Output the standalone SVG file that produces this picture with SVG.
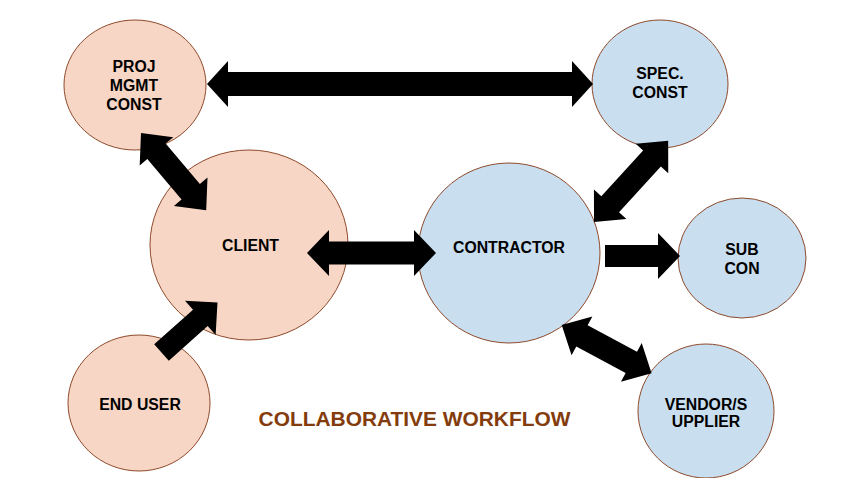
<svg xmlns="http://www.w3.org/2000/svg" width="849" height="478" viewBox="0 0 849 478">
<style>
.o{fill:#F8D6C5;stroke:#8E4A2B;stroke-width:1}
.b{fill:#C9DFF0;stroke:#8E4A2B;stroke-width:1}
.t{font-family:"Liberation Sans",Arial,sans-serif;font-weight:bold;font-size:15.8px;fill:#000;text-anchor:middle}
.title{font-family:"Liberation Sans",Arial,sans-serif;font-weight:bold;font-size:20.9px;fill:#843C0C;text-anchor:middle}
.a{fill:#000;stroke:none}
</style>
<rect width="849" height="478" fill="#fff"/>
<g id="proj"><ellipse class="o" cx="135" cy="85" rx="71" ry="65"/>
<text class="t" x="134" y="72">PROJ</text><text class="t" x="134" y="91">MGMT</text><text class="t" x="134" y="110">CONST</text></g>
<g id="client"><ellipse class="o" cx="249" cy="245" rx="99" ry="95"/>
<text class="t" x="250.5" y="251">CLIENT</text></g>
<g id="enduser"><ellipse class="o" cx="139" cy="403" rx="71" ry="68"/>
<text class="t" x="140" y="410">END USER</text></g>
<g id="contractor"><ellipse class="b" cx="509" cy="253" rx="91" ry="90"/>
<text class="t" x="509" y="253">CONTRACTOR</text></g>
<g id="spec"><ellipse class="b" cx="660" cy="84" rx="68" ry="64"/>
<text class="t" x="660" y="79">SPEC.</text><text class="t" x="660" y="98">CONST</text></g>
<g id="sub"><ellipse class="b" cx="742" cy="258" rx="64" ry="60"/>
<text class="t" x="742" y="255">SUB</text><text class="t" x="742" y="274">CON</text></g>
<g id="vendor"><ellipse class="b" cx="706" cy="411" rx="68" ry="67"/>
<text class="t" x="706" y="410">VENDOR/S</text><text class="t" x="706" y="427">UPPLIER</text></g>
<g id="connectors">
<path class="a" transform="translate(207,84)" d="M0,0 L21,-23 L21,-12 L365,-12 L365,-23 L386,0 L365,23 L365,12 L21,12 L21,23 Z"/>
<path class="a" transform="translate(307,253)" d="M0,0 L22,-23 L22,-11.5 L107,-11.5 L107,-23 L129,0 L107,23 L107,11.5 L22,11.5 L22,23 Z"/>
<path class="a" transform="translate(141,133) rotate(49.8)" d="M0,0 L24,-22 L24,-12 L77,-12 L77,-22 L101,0 L77,22 L77,12 L24,12 L24,22 Z"/>
<path class="a" transform="translate(594,222) rotate(-47.6)" d="M0,0 L24,-22 L24,-12 L86,-12 L86,-22 L110,0 L86,22 L86,12 L24,12 L24,22 Z"/>
<path class="a" transform="translate(561.7,325) rotate(28.2)" d="M0,0 L23,-22 L23,-12 L79,-12 L79,-22 L102,0 L79,22 L79,12 L23,12 L23,22 Z"/>
<path class="a" d="M605,245 L658,245 L658,233 L680,256 L658,279 L658,267 L605,267 Z"/>
<path class="a" transform="translate(161.5,352.5) rotate(-41.7)" d="M0,-11 L52,-11 L52,-23 L75,0 L52,23 L52,11 L0,11 Z"/>
</g>
<text class="title" x="414.5" y="426">COLLABORATIVE WORKFLOW</text>
</svg>
